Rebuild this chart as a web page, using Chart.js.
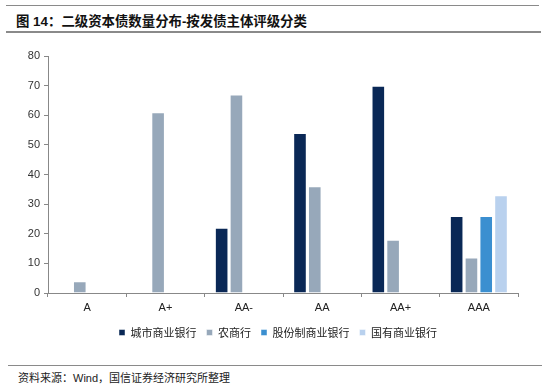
<!DOCTYPE html>
<html><head><meta charset="utf-8">
<script src="https://cdn.jsdelivr.net/npm/chart.js@4.4.1/dist/chart.umd.min.js"></script>
<style>
html,body{margin:0;padding:0;background:#fff;width:550px;height:391px;overflow:hidden;font-family:"Liberation Sans","Noto Sans CJK SC",sans-serif;}
.line{position:absolute;height:0;border-top:1.5px solid #8a8a8a;}
#title{position:absolute;left:16px;top:10px;font-size:13.4px;font-weight:bold;color:#111;font-family:"Liberation Sans","Noto Sans CJK SC",sans-serif;white-space:nowrap;}
#src{position:absolute;left:18px;top:369px;font-size:11px;color:#222;font-family:"Liberation Sans","Noto Sans CJK SC",sans-serif;white-space:nowrap;}
#wrap{position:absolute;left:0;top:40px;width:550px;height:310px;}
</style></head>
<body>
<div class="line" style="left:6px;top:5px;width:533px;"></div>
<div id="title">图 14：二级资本债数量分布-按发债主体评级分类</div>
<div class="line" style="left:6px;top:31px;width:535px;border-top-width:2px;"></div>
<div id="wrap"><canvas id="c" width="550" height="310"></canvas></div>
<div class="line" style="left:8px;top:365px;width:534px;"></div>
<div id="src">资料来源：Wind，国信证券经济研究所整理</div>
<script>
const categories = ["A", "A+", "AA-", "AA", "AA+", "AAA"];
const cityBanks = [null, null, 22, 54, 70, 26];
const ruralBanks = [4, 61, 67, 36, 18, 12];
const jointStockBanks = [null, null, null, null, null, 26];
const stateBanks = [null, null, null, null, null, 33];
const seriesNames = ["城市商业银行", "农商行", "股份制商业银行", "国有商业银行"];
const yTicks = [0, 10, 20, 30, 40, 50, 60, 70, 80];

const colors = ["#0a2856", "#97a8ba", "#3b8fd0", "#b9d1ee"];
const series = [cityBanks, ruralBanks, jointStockBanks, stateBanks];

const shiftLegend = {
  id: "shiftLegend",
  afterLayout(chart) {
    const lg = chart.legend;
    if (lg) { lg.left += 19; lg.right += 19; }
  }
};

new Chart(document.getElementById("c"), {
  type: "bar",
  data: {
    labels: categories,
    datasets: series.map((d, i) => ({
      label: seriesNames[i],
      data: d,
      backgroundColor: colors[i],
      borderColor: "rgba(255,255,255,0.45)",
      borderWidth: 1,
      categoryPercentage: 0.755,
      barPercentage: 0.92
    }))
  },
  plugins: [shiftLegend],
  options: {
    responsive: false,
    animation: false,
    layout: { padding: { top: 16, right: 32, left: 0, bottom: 2 } },
    plugins: {
      legend: {
        position: "bottom",
        labels: {
          boxWidth: 6, boxHeight: 6, padding: 10,
          color: "#222",
          font: { size: 11, family: "'Noto Sans CJK SC'" }
        }
      },
      tooltip: { enabled: false }
    },
    scales: {
      x: {
        grid: { drawOnChartArea: false, offset: true, tickLength: 4, color: "#888", tickColor: "#888" },
        border: { color: "#888", width: 1 },
        ticks: { color: "#222", font: { size: 11, family: "'Liberation Sans'" }, padding: 4 },
        afterFit: s => { s.height = 24; }
      },
      y: {
        min: 0, max: 80,
        afterBuildTicks: s => { s.ticks = yTicks.map(v => ({ value: v })); },
        grid: { drawOnChartArea: false, tickLength: 4, color: "#888", tickColor: "#888" },
        border: { color: "#888", width: 1 },
        ticks: { color: "#333", font: { size: 11, family: "'Liberation Sans'" }, padding: 4 },
        afterFit: s => { s.width = 48; }
      }
    }
  }
});
</script>
</body></html>
